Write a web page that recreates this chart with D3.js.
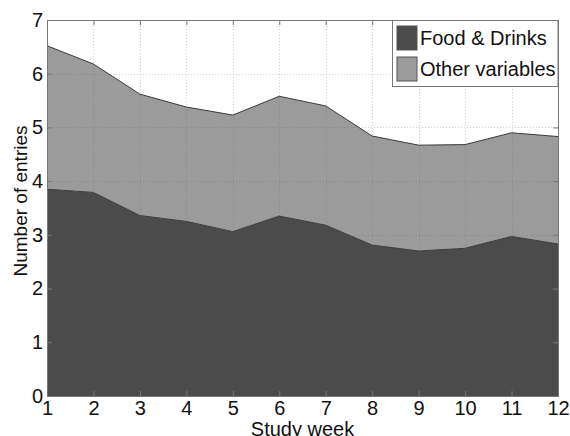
<!DOCTYPE html>
<html>
<head>
<meta charset="utf-8">
<script src="https://cdn.jsdelivr.net/npm/d3@7"></script>
<style>
  html, body { margin: 0; padding: 0; background: #fff; }
  svg { display: block; }
  text { font-family: "Liberation Sans", Arial, sans-serif; fill: #111; }
</style>
</head>
<body>
<svg id="chart" width="570" height="436"></svg>
<script>
// Weekly entries per participant, split into food/drink entries and the rest
const weeks = [1, 2, 3, 4, 5, 6, 7, 8, 9, 10, 11, 12];
const foodDrinks = [3.85, 3.79, 3.36, 3.25, 3.06, 3.35, 3.18, 2.81, 2.70, 2.75, 2.97, 2.83];
const otherVariables = [2.67, 2.39, 2.26, 2.13, 2.17, 2.23, 2.22, 2.03, 1.97, 1.93, 1.93, 2.00];
const seriesNames = ["Food & Drinks", "Other variables"];
const seriesColors = ["#4b4b4b", "#9b9b9b"];
const xTicks = [1, 2, 3, 4, 5, 6, 7, 8, 9, 10, 11, 12];
const yTicks = [0, 1, 2, 3, 4, 5, 6, 7];

const svg = d3.select("#chart");
const plotL = 47, plotR = 558, plotT = 20, plotB = 396;

const x = d3.scaleLinear().domain([1, 12]).range([plotL, plotR]);
const y = d3.scaleLinear().domain([0, 7]).range([plotB, plotT]);

const rows = weeks.map((w, i) => ({ week: w, food: foodDrinks[i], other: otherVariables[i] }));
const stacked = d3.stack().keys(["food", "other"])(rows);

const area = d3.area()
  .x(d => x(d.data.week))
  .y0(d => y(d[0]))
  .y1(d => y(d[1]));

const line = d3.line()
  .x(d => x(d.data.week))
  .y(d => y(d[1]));

// stacked areas
svg.append("g").selectAll("path.area")
  .data(stacked)
  .join("path")
  .attr("class", "area")
  .attr("d", area)
  .attr("fill", (d, i) => seriesColors[i]);

// outline of each layer's upper edge
svg.append("g").selectAll("path.edge")
  .data(stacked)
  .join("path")
  .attr("class", "edge")
  .attr("d", line)
  .attr("fill", "none")
  .attr("stroke", "#3a3a3a")
  .attr("stroke-width", 1);

// dotted grid
const grid = svg.append("g")
  .attr("stroke", "#555")
  .attr("stroke-opacity", 0.28)
  .attr("stroke-width", 1)
  .attr("stroke-dasharray", "1,2");
grid.selectAll("line.gx")
  .data(xTicks.slice(1, -1))
  .join("line")
  .attr("x1", d => Math.round(x(d)) + 0.5).attr("x2", d => Math.round(x(d)) + 0.5)
  .attr("y1", plotT).attr("y2", plotB);
grid.selectAll("line.gy")
  .data(yTicks.slice(1, -1))
  .join("line")
  .attr("y1", d => Math.round(y(d)) + 0.5).attr("y2", d => Math.round(y(d)) + 0.5)
  .attr("x1", plotL).attr("x2", plotR);

// axes with inward ticks on all four sides
const tickLen = 5;
const axisColor = "#777";
const fontSize = 20;

const xAxisB = d3.axisBottom(x).tickValues(xTicks).tickSize(-tickLen).tickPadding(5).tickFormat(d3.format("d"));
const xAxisT = d3.axisTop(x).tickValues(xTicks).tickSize(-tickLen).tickFormat("");
const yAxisL = d3.axisLeft(y).tickValues(yTicks).tickSize(-tickLen).tickPadding(4).tickFormat(d3.format("d"));
const yAxisR = d3.axisRight(y).tickValues(yTicks).tickSize(-tickLen).tickFormat("");

function styleAxis(g) {
  g.select(".domain").attr("stroke", axisColor);
  g.selectAll(".tick line").attr("stroke", axisColor);
  g.selectAll(".tick text")
    .attr("font-size", fontSize)
    .attr("font-family", "Liberation Sans, Arial, sans-serif")
    .attr("fill", "#111");
}

svg.append("g").attr("transform", `translate(0,${plotB})`).call(xAxisB).call(styleAxis);
svg.append("g").attr("transform", `translate(0,${plotT})`).call(xAxisT).call(styleAxis);
svg.append("g").attr("transform", `translate(${plotL},0)`).call(yAxisL).call(styleAxis);
svg.append("g").attr("transform", `translate(${plotR},0)`).call(yAxisR).call(styleAxis);

// axis titles
svg.append("text")
  .attr("x", (plotL + plotR) / 2)
  .attr("y", 436)
  .attr("text-anchor", "middle")
  .attr("font-size", fontSize)
  .text("Study week");

svg.append("text")
  .attr("transform", `translate(27,201) rotate(-90)`)
  .attr("text-anchor", "middle")
  .attr("font-size", 19)
  .text("Number of entries");

// legend
const legend = svg.append("g");
legend.append("rect")
  .attr("x", 392.5).attr("y", plotT + 0.5)
  .attr("width", plotR - 392.5).attr("height", 66)
  .attr("fill", "#fff")
  .attr("stroke", axisColor);
seriesNames.forEach((name, i) => {
  const rowY = 26 + i * 31;
  legend.append("rect")
    .attr("x", 397).attr("y", rowY)
    .attr("width", 20).attr("height", 24)
    .attr("fill", seriesColors[i])
    .attr("stroke", "#555");
  legend.append("text")
    .attr("x", 420).attr("y", rowY + 19)
    .attr("font-size", fontSize)
    .text(name);
});
</script>
</body>
</html>
